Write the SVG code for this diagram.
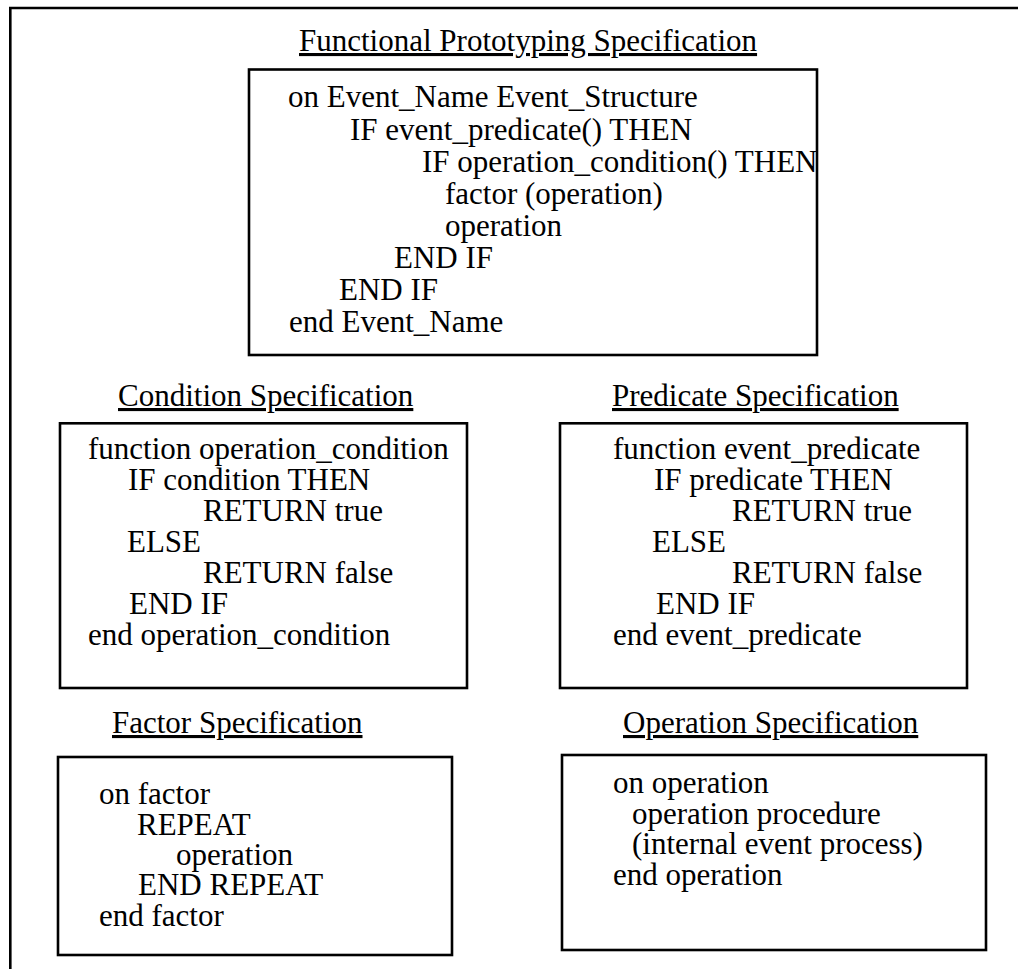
<svg xmlns="http://www.w3.org/2000/svg" width="1018" height="969" viewBox="0 0 1018 969">
  <style>
    text { font-family: "Liberation Serif", "Times New Roman", serif; font-size: 31px; fill: #000; }
    .title { text-decoration: underline; }
    .box { fill: #fff; stroke: #000; stroke-width: 2.6; }
    .frame { fill: none; stroke: #000; stroke-width: 2.6; }
  </style>
  <rect width="1018" height="969" fill="#fff"/>

  <!-- outer frame: open to the right and bottom -->
  <path class="frame" d="M10.3,969 V8 H1018"/>

  <!-- main event handler -->
  <g id="functional-prototyping">
    <text class="title" x="299" y="51">Functional Prototyping Specification</text>
    <rect class="box" x="249" y="69.5" width="568" height="285.5"/>
    <text x="288" y="107">on Event_Name Event_Structure</text>
    <text x="350" y="139.5">IF event_predicate() THEN</text>
    <text x="422" y="171.5">IF operation_condition() THEN</text>
    <text x="445" y="203.5">factor (operation)</text>
    <text x="445" y="235.5">operation</text>
    <text x="394" y="267.5">END IF</text>
    <text x="339" y="299.5">END IF</text>
    <text x="289" y="331.5">end Event_Name</text>
  </g>

  <!-- operation_condition function -->
  <g id="condition-spec">
    <text class="title" x="118" y="406">Condition Specification</text>
    <rect class="box" x="60" y="423.3" width="407" height="264.7"/>
    <text x="88" y="459">function operation_condition</text>
    <text x="128" y="490">IF condition THEN</text>
    <text x="203" y="521">RETURN true</text>
    <text x="127" y="551.5">ELSE</text>
    <text x="203" y="582.5">RETURN false</text>
    <text x="129" y="614">END IF</text>
    <text x="88" y="645">end operation_condition</text>
  </g>

  <!-- event_predicate function -->
  <g id="predicate-spec">
    <text class="title" x="612" y="406">Predicate Specification</text>
    <rect class="box" x="560" y="423.3" width="407" height="264.7"/>
    <text x="613" y="459">function event_predicate</text>
    <text x="654" y="490">IF predicate THEN</text>
    <text x="732" y="521">RETURN true</text>
    <text x="652" y="551.5">ELSE</text>
    <text x="732" y="582.5">RETURN false</text>
    <text x="656" y="614">END IF</text>
    <text x="613" y="645">end event_predicate</text>
  </g>

  <!-- factor handler -->
  <g id="factor-spec">
    <text class="title" x="112" y="733">Factor Specification</text>
    <rect class="box" x="58" y="757" width="394" height="198"/>
    <text x="99" y="804">on factor</text>
    <text x="137" y="835">REPEAT</text>
    <text x="176" y="865">operation</text>
    <text x="138" y="895">END REPEAT</text>
    <text x="99" y="926">end factor</text>
  </g>

  <!-- operation handler -->
  <g id="operation-spec">
    <text class="title" x="623" y="733">Operation Specification</text>
    <rect class="box" x="562" y="755" width="424" height="195"/>
    <text x="613" y="793">on operation</text>
    <text x="632" y="823.5">operation procedure</text>
    <text x="632" y="854">(internal event process)</text>
    <text x="613" y="885">end operation</text>
  </g>
</svg>
